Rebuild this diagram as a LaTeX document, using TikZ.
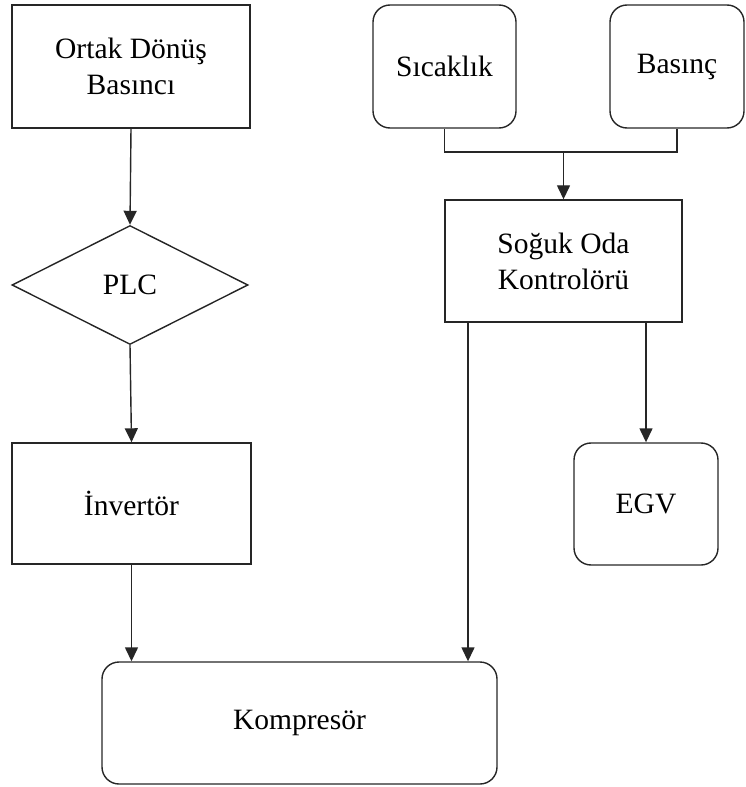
\documentclass[tikz,border=0pt]{standalone}
\usepackage{fontspec}
\setmainfont{Liberation Serif}
\usetikzlibrary{shapes.geometric, arrows.meta}

\begin{document}
\begin{tikzpicture}[
	kutu/.style={rectangle, draw=black!85, line width=0.8pt, align=center, font=\fontsize{16.8pt}{20.5pt}\selectfont},
	yuvarlak/.style={kutu, rounded corners=0.34cm},
	karar/.style={diamond, draw=black!85, line width=0.8pt, inner sep=0pt, font=\fontsize{16.8pt}{20.5pt}\selectfont},
	ok/.style={-{Triangle[width=0.26cm, length=0.28cm]}, line width=0.8pt, draw=black!85},
	hat/.style={line width=0.8pt, draw=black!85},
	]
	\useasboundingbox (0,0) rectangle (14.9,-15.74);
	%Nodes
	\node[kutu, minimum width = 4.76cm, minimum height = 2.46cm] (ortak) at (2.62,-1.33) {Ortak Dönüş\\Basıncı};
	%
	\node[karar, minimum width = 4.72cm, minimum height = 2.38cm] (plc) at (2.60,-5.70) {PLC};
	%
	\node[kutu, minimum width = 4.78cm, minimum height = 2.42cm] (invertor) at (2.63,-10.07) {İnvertör};
	%
	\node[yuvarlak, minimum width = 7.9cm, minimum height = 2.44cm] (kompresor) at (5.99,-14.46) {Kompresör};
	%
	\node[yuvarlak, minimum width = 2.86cm, minimum height = 2.46cm] (sicaklik) at (8.89,-1.33) {Sıcaklık};
	%
	\node[yuvarlak, minimum width = 2.68cm, minimum height = 2.46cm] (basinc) at (13.54,-1.33) {Basınç};
	%
	\node[kutu, minimum width = 4.74cm, minimum height = 2.44cm] (soguk) at (11.27,-5.22) {Soğuk Oda\\Kontrolörü};
	%
	\node[yuvarlak, minimum width = 2.88cm, minimum height = 2.44cm] (egv) at (12.92,-10.08) {EGV};
	%
	\coordinate (birles) at (11.27,-3.04);

	%Connectors
	\draw[ok] (ortak.south) -- (plc.north);
	\draw[ok] (plc.south) -- (invertor.north);
	\draw[ok] (invertor.south) -- (invertor.south |- kompresor.north);
	%
	\draw[hat] (sicaklik.south) |- (birles) -| (basinc.south);
	\draw[ok] (birles) -- (soguk.north);
	%
	\draw[ok] ([xshift=-1.91cm]soguk.south) -- ([xshift=-1.91cm]soguk.south |- kompresor.north);
	\draw[ok] (egv.north |- soguk.south) -- (egv.north);
\end{tikzpicture}
\end{document}
